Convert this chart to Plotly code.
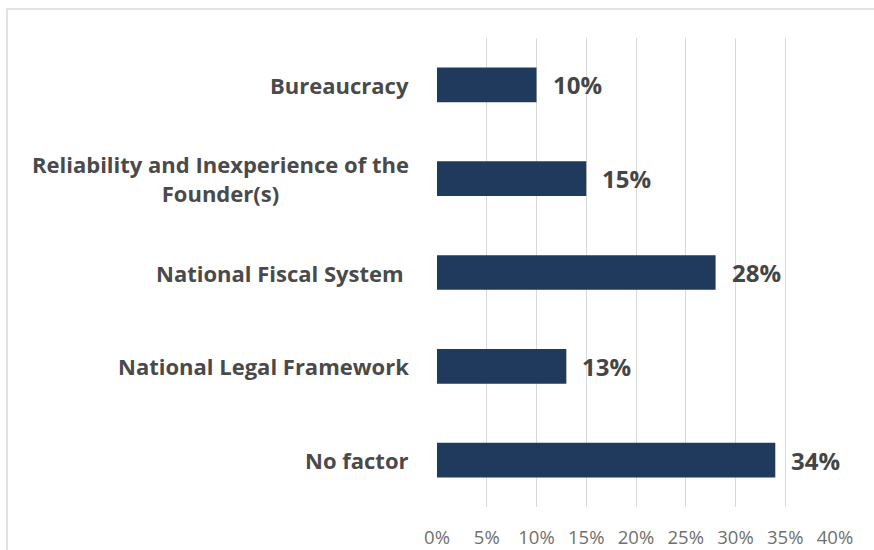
import plotly.graph_objects as go

# Survey results: main obstacle factors
categories = [
    "Bureaucracy",
    "Reliability and Inexperience of the<br>Founder(s)",
    "National Fiscal System\u00a0",
    "National Legal Framework",
    "No factor",
]
values = [0.10, 0.15, 0.28, 0.13, 0.34]
tick_vals = [0, 0.05, 0.10, 0.15, 0.20, 0.25, 0.30, 0.35, 0.40]
tick_text = ["0%", "5%", "10%", "15%", "20%", "25%", "30%", "35%", "40%"]

W, H = 874, 550
M_L, M_R, M_T, M_B = 437, 39, 38, 43
BAR_COLOR = "#1f3a5c"
FONT = "Open Sans"

fig = go.Figure(
    go.Bar(
        x=values,
        y=categories,
        orientation="h",
        marker=dict(color=BAR_COLOR, line=dict(width=0)),
        hoverinfo="skip",
    )
)

# Category labels, centred per line, right-aligned to the plot edge
for cat in categories:
    fig.add_annotation(
        x=0, xref="paper", xanchor="right", xshift=-26,
        y=cat, yref="y", yanchor="middle",
        text=f"<b>{cat}</b>", showarrow=False, align="center",
        font=dict(family=FONT, size=22, color="#4a4a4a"),
    )

# Value labels next to each bar
for cat, v in zip(categories, values):
    fig.add_annotation(
        x=v, xref="x", xanchor="left", xshift=14,
        y=cat, yref="y", yanchor="middle",
        text=f"<b>{round(v * 100)}%</b>", showarrow=False,
        font=dict(family=FONT, size=24, color="#454545"),
    )

# Outer frame around the chart area
pw, ph = W - M_L - M_R, H - M_T - M_B
def px_x(p):
    return (p - M_L) / pw
def px_y(p):
    return (H - M_B - p) / ph
fig.add_shape(
    type="rect", xref="paper", yref="paper",
    x0=px_x(7), x1=px_x(890), y0=px_y(570), y1=px_y(9),
    line=dict(color="#d9d9d9", width=1.5), fillcolor="rgba(0,0,0,0)",
    layer="below",
)

fig.update_layout(
    width=W, height=H,
    margin=dict(l=M_L, r=M_R, t=M_T, b=M_B, autoexpand=False),
    paper_bgcolor="white", plot_bgcolor="white",
    bargap=0.63,
    showlegend=False,
    xaxis=dict(
        range=[0, 0.40],
        tickvals=tick_vals, ticktext=tick_text,
        showgrid=True, gridcolor="#d9d9d9", gridwidth=1,
        zeroline=False, showline=False, automargin=False,
        ticks="", ticklabelstandoff=17,
        tickfont=dict(family=FONT, size=18.5, color="#6f6f6f"),
        fixedrange=True,
    ),
    yaxis=dict(
        categoryorder="array", categoryarray=categories[::-1],
        showticklabels=False, showgrid=False, zeroline=False,
        showline=False, ticks="", fixedrange=True, automargin=False,
    ),
)

fig.write_html("out.html")
